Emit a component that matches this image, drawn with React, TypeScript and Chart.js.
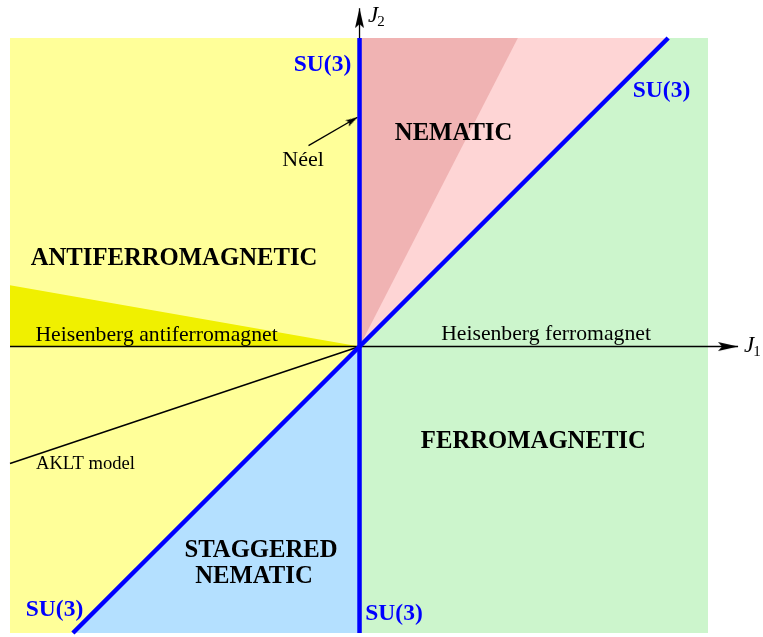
import React, { useEffect, useRef } from "react";
import { Chart, registerables } from "chart.js";

Chart.register(...registerables);

// ---- frame of the diagram (J1 horizontal, J2 vertical) ----
const xRange = [-1, 0.997];
const yRange = [-0.82, 0.883];

// ---- phase regions (polygons in J1/J2 units) ----
const antiferroRegion: number[][] = [[-1, -0.82], [-1, 0.883], [0, 0.883], [0, -0.82]];
const heisenbergAfWedge: number[][] = [[0, 0], [-1, 0], [-1, 0.175]];
const staggeredNematicRegion: number[][] = [[0, 0], [0, -0.82], [-0.82, -0.82]];
const ferroRegion: number[][] = [[0, -0.82], [0.997, -0.82], [0.997, 0.883], [0, 0.883]];
const nematicRegion: number[][] = [[0, 0], [0.883, 0.883], [0, 0.883]];
const nematicDarkRegion: number[][] = [[0, 0], [0.453, 0.883], [0, 0.883]];

// ---- lines ----
const su3Vertical: number[][] = [[0, -0.82], [0, 0.883]];
const su3Diagonal: number[][] = [[-0.82, -0.82], [0.883, 0.883]];
const akltLine: number[][] = [[0, 0], [-1, -0.335]];
const j1Axis: number[][] = [[-1, 0], [1.083, 0]];
const j2Axis: number[][] = [[0, 0], [0, 0.9685]];
const neelPointer: number[][] = [[-0.146, 0.575], [-0.006, 0.656]];

// ---- texts ----
const regionNames = ["NEMATIC", "ANTIFERROMAGNETIC", "FERROMAGNETIC", "STAGGERED", "NEMATIC"];
const regionNamePos: number[][] = [[0.269, 0.5908], [-0.5308, 0.2346], [0.4973, -0.2918], [-0.2818, -0.6023], [-0.3019, -0.6767]];
const lineNames = ["Heisenberg antiferromagnet", "Heisenberg ferromagnet", "AKLT model", "Néel"];
const lineNamePos: number[][] = [[-0.5808, 0.0157], [0.5336, 0.0186], [-0.784, -0.3519], [-0.1617, 0.5173]];
const lineNameSize = [21.7, 21.7, 18.6, 22];
const su3Label = "SU(3)";
const su3Pos: number[][] = [[-0.1059, 0.788], [0.864, 0.7147], [-0.8727, -0.771], [0.0987, -0.7825]];
const axisNames = [["J", "2"], ["J", "1"]];
const axisNamePos: number[][] = [[0.0243, 0.9285], [1.1, -0.0157]];

const FONT = '"Liberation Serif", "Times New Roman", Times, serif';

const pts = (a: number[][]) => a.map(([x, y]) => ({ x, y }));

function makeArrowHead(len: number, half: number) {
  const c = document.createElement("canvas");
  c.width = Math.round(len * 2);
  c.height = Math.round(half * 2 + 2);
  const g = c.getContext("2d")!;
  const cy = c.height / 2;
  g.fillStyle = "#000";
  g.beginPath();
  g.moveTo(0, cy - half);
  g.lineTo(len, cy);
  g.lineTo(0, cy + half);
  g.lineTo(len * 0.2, cy);
  g.closePath();
  g.fill();
  return c;
}

function regionDs(data: number[][], color: string, order: number) {
  return {
    data: pts(data),
    showLine: true,
    fill: "shape",
    backgroundColor: color,
    borderColor: color,
    borderWidth: 0,
    pointRadius: 0,
    order,
  };
}

function lineDs(data: number[][], color: string, width: number, order: number, arrow?: HTMLCanvasElement, rot = 0) {
  const last = data.length - 1;
  return {
    data: pts(data),
    showLine: true,
    fill: false,
    borderColor: color,
    backgroundColor: color,
    borderWidth: width,
    borderCapStyle: "butt",
    pointRadius: (c: any) => (arrow && c.dataIndex === last ? 30 : 0),
    pointStyle: arrow || "circle",
    rotation: rot,
    clip: false,
    order,
  };
}

const labelPlugin = {
  id: "phaseLabels",
  afterDatasetsDraw(chart: any) {
    const { ctx } = chart;
    const sx = chart.scales.x;
    const sy = chart.scales.y;
    const px = (v: number) => sx.getPixelForValue(v);
    const py = (v: number) => sy.getPixelForValue(v);
    ctx.save();
    ctx.textAlign = "center";
    ctx.textBaseline = "alphabetic";
    ctx.fillStyle = "#000";
    ctx.font = `bold 24.7px ${FONT}`;
    regionNames.forEach((t, i) => ctx.fillText(t, px(regionNamePos[i][0]), py(regionNamePos[i][1])));
    lineNames.forEach((t, i) => {
      ctx.font = `${lineNameSize[i]}px ${FONT}`;
      ctx.fillText(t, px(lineNamePos[i][0]), py(lineNamePos[i][1]));
    });
    ctx.fillStyle = "#0000ff";
    ctx.font = `bold 23.5px ${FONT}`;
    su3Pos.forEach((p) => ctx.fillText(su3Label, px(p[0]), py(p[1])));
    ctx.fillStyle = "#000";
    ctx.textAlign = "left";
    axisNames.forEach((n, i) => {
      const x0 = px(axisNamePos[i][0]);
      const y0 = py(axisNamePos[i][1]);
      ctx.font = `italic 23px ${FONT}`;
      ctx.fillText(n[0], x0, y0);
      const w = ctx.measureText(n[0]).width;
      ctx.font = `15px ${FONT}`;
      ctx.fillText(n[1], x0 + w - 1, y0 + 4);
    });
    ctx.restore();
  },
};

export default function App() {
  const ref = useRef<HTMLCanvasElement>(null);
  useEffect(() => {
    const arrowBig = makeArrowHead(20, 4.5);
    const arrowSmall = makeArrowHead(12, 3.5);
    const chart = new Chart(ref.current!, {
      type: "scatter",
      data: {
        datasets: [
          lineDs(su3Vertical, "#0000ff", 4.5, 1),
          lineDs(su3Diagonal, "#0000ff", 4.5, 2),
          lineDs(neelPointer, "#000000", 1.3, 3, arrowSmall, -30.6),
          lineDs(j1Axis, "#000000", 1.3, 4, arrowBig, 0),
          lineDs(j2Axis, "#000000", 1.3, 5, arrowBig, -90),
          lineDs(akltLine, "#000000", 1.5, 6),
          regionDs(nematicDarkRegion, "#f0b3b3", 10),
          regionDs(nematicRegion, "#fed5d5", 11),
          regionDs(staggeredNematicRegion, "#b4e0ff", 12),
          regionDs(heisenbergAfWedge, "#f0f000", 13),
          regionDs(ferroRegion, "#ccf5cc", 14),
          regionDs(antiferroRegion, "#ffff99", 15),
        ] as any,
      },
      options: {
        responsive: false,
        animation: false,
        events: [],
        devicePixelRatio: 1,
        layout: { autoPadding: false, padding: { left: 10, right: 55, top: 38, bottom: 4 } },
        scales: {
          x: { type: "linear", min: xRange[0], max: xRange[1], display: false },
          y: { type: "linear", min: yRange[0], max: yRange[1], display: false },
        },
        plugins: { legend: { display: false }, tooltip: { enabled: false } },
      } as any,
      plugins: [labelPlugin],
    });
    return () => chart.destroy();
  }, []);
  return (
    <div style={{ position: "absolute", left: 0, top: 0, width: 763, height: 637, background: "#fff" }}>
      <canvas ref={ref} width={763} height={637} style={{ display: "block" }} />
    </div>
  );
}
